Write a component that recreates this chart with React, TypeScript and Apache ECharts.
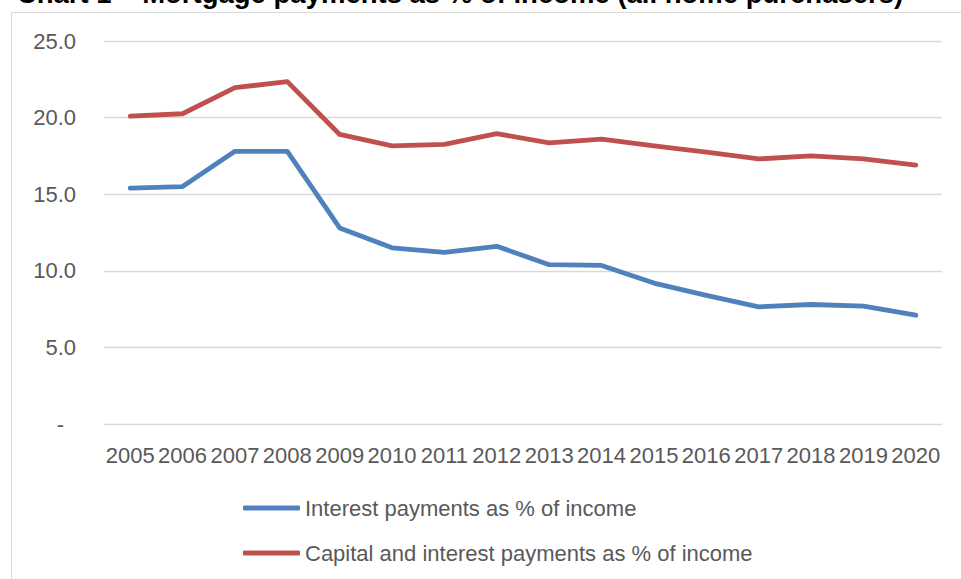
import React, { useEffect, useRef } from "react";
import * as echarts from "echarts";

const years = ["2005","2006","2007","2008","2009","2010","2011","2012","2013","2014","2015","2016","2017","2018","2019","2020"];
const interestPct = [15.4, 15.5, 17.8, 17.8, 12.8, 11.5, 11.2, 11.6, 10.4, 10.35, 9.2, 8.4, 7.65, 7.8, 7.7, 7.1];
const capitalInterestPct = [20.1, 20.25, 21.95, 22.35, 18.9, 18.15, 18.25, 18.95, 18.35, 18.6, 18.15, 17.75, 17.3, 17.5, 17.3, 16.9];
const seriesNames = ["Interest payments as % of income", "Capital and interest payments as % of income"];
const titleText = "Chart 1 \u2013 Mortgage payments as % of income (all home purchasers)";

export default function App() {
  const ref = useRef<HTMLDivElement>(null);
  useEffect(() => {
    if (!ref.current) return;
    const chart = echarts.init(ref.current, null, { renderer: "svg" });
    const font = "'Liberation Sans', Arial, sans-serif";
    chart.setOption({
      animation: false,
      textStyle: { fontFamily: font },
      graphic: [
        {
          type: "rect",
          shape: { x: 11.5, y: 12.5, width: 1000, height: 700 },
          style: { fill: "#fff", stroke: "#d9d9d9", lineWidth: 1 },
          z: -10,
        },
        {
          type: "text",
          x: 460,
          y: 7,
          style: {
            text: titleText,
            font: `bold 27.5px ${font}`,
            fill: "#000",
            align: "center",
            verticalAlign: "bottom",
          },
        },
      ],
      grid: { left: 104, right: 19, top: 41, bottom: 155 },
      xAxis: {
        type: "category",
        data: years,
        boundaryGap: true,
        axisLine: { show: false },
        axisTick: { show: false },
        axisLabel: { color: "#595959", fontSize: 22, margin: 20, fontFamily: font, interval: 0 },
      },
      yAxis: {
        type: "value",
        min: 0,
        max: 25,
        interval: 5,
        axisLine: { show: false },
        axisTick: { show: false },
        splitLine: { lineStyle: { color: "#d9d9d9", width: 1.3 } },
        axisLabel: {
          color: "#595959",
          fontSize: 22,
          margin: 28,
          fontFamily: font,
          formatter: (v: number) => (v === 0 ? "{d|-}" : v.toFixed(1)),
          rich: { d: { color: "#595959", fontSize: 22, fontFamily: font, padding: [0, 12, 0, 0] } },
        },
      },
      legend: {
        orient: "vertical",
        left: 243,
        top: 497,
        padding: 0,
        itemWidth: 57,
        itemHeight: 5,
        itemGap: 23,
        icon: "roundRect",
        data: seriesNames,
        textStyle: { color: "#595959", fontSize: 22, fontFamily: font },
      },
      series: [
        {
          name: seriesNames[0],
          type: "line",
          data: interestPct,
          symbol: "none",
          lineStyle: { color: "#4F81BD", width: 4.8, cap: "round", join: "round" },
          itemStyle: { color: "#4F81BD" },
        },
        {
          name: seriesNames[1],
          type: "line",
          data: capitalInterestPct,
          symbol: "none",
          lineStyle: { color: "#C0504D", width: 4.8, cap: "round", join: "round" },
          itemStyle: { color: "#C0504D" },
        },
      ],
    });
    return () => chart.dispose();
  }, []);
  return <div ref={ref} style={{ width: 961, height: 579, position: "absolute", left: 0, top: 0 }} />;
}
